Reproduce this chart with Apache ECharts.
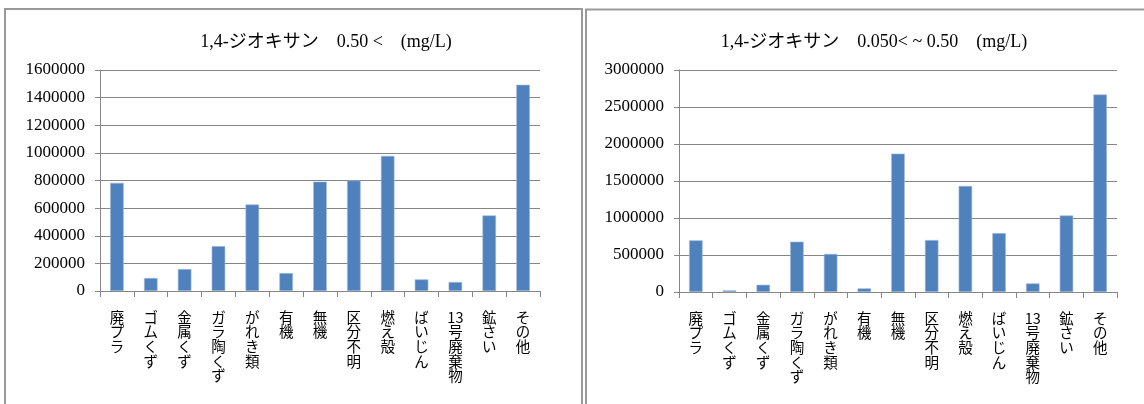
<!DOCTYPE html>
<html>
<head>
<meta charset="utf-8">
<script src="https://cdn.jsdelivr.net/npm/echarts@6/dist/echarts.min.js"></script>
<style>
  html, body { margin: 0; padding: 0; background: #ffffff; }
  #chart { width: 1144px; height: 404px; }
</style>
</head>
<body>
<div id="chart"></div>
<script>
// Waste categories shared by both panels
const categories = ['廃プラ', 'ゴムくず', '金属くず', 'ガラ陶くず', 'がれき類', '有機', '無機',
  '区分不明', '燃え殻', 'ばいじん', '13号廃棄物', '鉱さい', 'その他'];

// 1,4-dioxane above 0.50 mg/L
const valuesHigh = [783000, 94000, 159000, 325000, 626000, 130000, 792000,
  800000, 978000, 84000, 65000, 547000, 1493000];

// 1,4-dioxane between 0.050 and 0.50 mg/L
const valuesMid = [698000, 22000, 98000, 680000, 514000, 49000, 1870000,
  702000, 1432000, 796000, 116000, 1034000, 2668000];

const titleHigh = '1,4-ジオキサン　0.50 <　(mg/L)';
const titleMid = '1,4-ジオキサン　0.050< ~ 0.50　(mg/L)';

const yTicksHigh = { max: 1600000, interval: 200000 };
const yTicksMid = { max: 3000000, interval: 500000 };

const GRAY = '#868686';
const BAR = '#4f81bd';
const SERIF = "'Liberation Serif', 'Noto Sans CJK JP', serif";
const SANS = "'Noto Sans CJK JP', sans-serif";

// Stack each character vertically; digit runs stay together on one line
const verticalLabel = (v) => v.match(/\d+|./g).join('\n');

function xAxisFor(gridIndex) {
  return {
    type: 'category', gridIndex, data: categories,
    axisLine: { lineStyle: { color: GRAY, width: 1 } },
    axisTick: { show: true, length: 6, lineStyle: { color: GRAY } },
    axisLabel: {
      interval: 0, margin: 19, formatter: verticalLabel,
      fontFamily: SANS, fontSize: 14.5, lineHeight: 14.6, color: '#000',
      verticalAlign: 'top'
    }
  };
}

function yAxisFor(gridIndex, ticks) {
  return {
    type: 'value', gridIndex, min: 0, max: ticks.max, interval: ticks.interval,
    axisLine: { show: true, lineStyle: { color: GRAY, width: 1 } },
    axisTick: { show: true, length: 5, lineStyle: { color: GRAY } },
    splitLine: { show: true, lineStyle: { color: GRAY, width: 1 } },
    axisLabel: {
      margin: 15, formatter: (v) => String(v),
      fontFamily: SERIF, fontSize: 17, color: '#000'
    }
  };
}

function barSeries(axisIndex, values) {
  return {
    type: 'bar', xAxisIndex: axisIndex, yAxisIndex: axisIndex, data: values,
    barWidth: '40%',
    itemStyle: { color: BAR, borderColor: '#9fb8d9', borderWidth: 0.6 },
    emphasis: { disabled: true }, animation: false
  };
}

const chart = echarts.init(document.getElementById('chart'), null, { renderer: 'canvas' });

const titleStyle = { fontFamily: SERIF, fontSize: 18, fontWeight: 'normal', color: '#000' };

chart.setOption({
  animation: false,
  backgroundColor: '#ffffff',
  title: [
    { text: titleHigh, left: 321, top: 28, textAlign: 'center', textStyle: titleStyle },
    { text: titleMid, left: 869, top: 28, textAlign: 'center', textStyle: titleStyle }
  ],
  grid: [
    { left: 100, right: 604, top: 70, bottom: 113 },
    { left: 679, right: 27, top: 70, bottom: 112 }
  ],
  xAxis: [xAxisFor(0), xAxisFor(1)],
  yAxis: [yAxisFor(0, yTicksHigh), yAxisFor(1, yTicksMid)],
  series: [barSeries(0, valuesHigh), barSeries(1, valuesMid)],
  graphic: [
    // frame of the left panel (left, top, right edges)
    { type: 'polyline', silent: true,
      shape: { points: [[5, 410], [5, 9], [582, 9], [582, 410]] },
      style: { stroke: '#9a9a9a', lineWidth: 2, fill: null } },
    // frame of the right panel (left and top edges)
    { type: 'polyline', silent: true,
      shape: { points: [[586, 410], [586, 9.5], [1150, 9.5]] },
      style: { stroke: '#9a9a9a', lineWidth: 2, fill: null } }
  ]
});
</script>
</body>
</html>
